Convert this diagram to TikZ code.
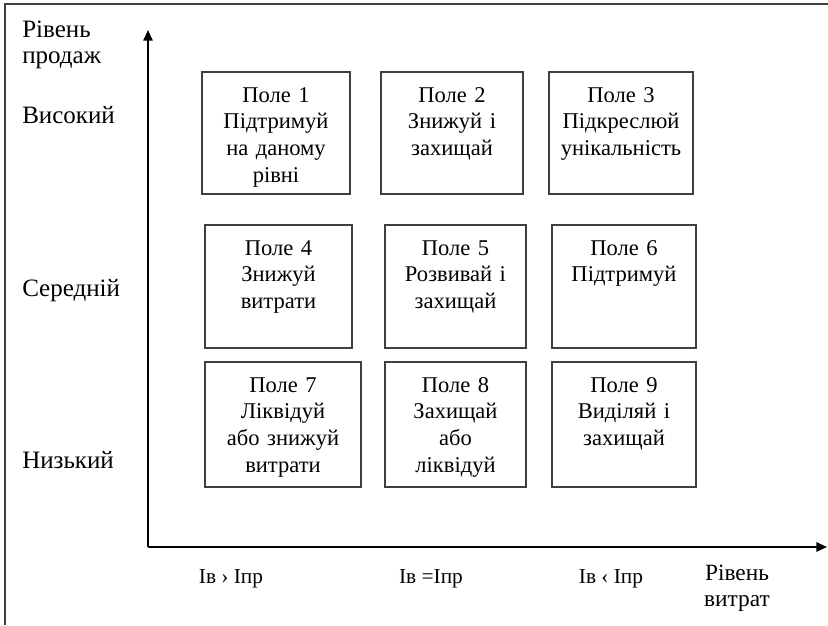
\documentclass[tikz,border=0pt]{standalone}
\usepackage{fontspec}
\setmainfont{Liberation Serif}
\usetikzlibrary{arrows.meta}
\newcommand{\polefont}{\fontsize{16.9}{20}\selectfont}
\newcommand{\rivfont}{\fontsize{18.75}{19.5}\selectfont}
\tikzset{
  pole/.style={draw=black!75, line width=1.1pt, align=center, text width=102pt,
    inner sep=0pt, text height=22.5pt, font=\polefont},
  rivlabel/.style={font=\rivfont, inner sep=0pt},
  vytlabel/.style={font=\fontsize{16}{19}\selectfont, inner sep=0pt},
  vis/.style={line width=1.3pt, -{Triangle[length=8pt,width=7pt]}}
}

\begin{document}
\begin{tikzpicture}[x=0.75pt,y=-0.75pt]
  \useasboundingbox (0,0) rectangle (828,625);
  \draw[black!75,line width=1.2pt] (5,625) |- (828,4);
  \coordinate (O) at (148,547);
  \coordinate (Ytop) at (148,30);
  \coordinate (Xend) at (827,547);
  \draw[vis] (O) -- (Ytop);
  \draw[vis] (O) -- (Xend);
  % sales levels
  \node[rivlabel,anchor=base west,align=left] (prod) at (22,63) {Рівень\\продаж};
  \node[rivlabel,anchor=base west] (vys) at (22,123) {Високий};
  \node[rivlabel,anchor=base west] (ser) at (22,296) {Середній};
  \node[rivlabel,anchor=base west] (nyz) at (22,468) {Низький};
  % cost levels
  \node[vytlabel,anchor=base] (c1) at (231,583) {Ів › Іпр};
  \node[vytlabel,anchor=base] (c2) at (431,583) {Ів =Іпр};
  \node[vytlabel,anchor=base] (c3) at (611,583) {Ів ‹ Іпр};
  \node[vytlabel,font=\fontsize{17.5}{19}\selectfont,anchor=base,align=center] (vytr) at (737,606) {Рівень\\витрат};
  % fields
  \node[pole,minimum width=111pt,text depth=69pt] (p1) at (276,133) {Поле 1\\Підтримуй\\на даному\\рівні};
  \node[pole,minimum width=106.5pt,text depth=69pt] (p2) at (452,133) {Поле 2\\Знижуй і\\захищай};
  \node[pole,minimum width=108pt,text depth=69pt] (p3) at (621,133) {Поле 3\\Підкреслюй\\унікальність};
  \node[pole,minimum width=110.25pt,text depth=69.75pt] (p4) at (278.5,286.5) {Поле 4\\Знижуй\\витрати};
  \node[pole,minimum width=105.75pt,text depth=69.75pt] (p5) at (455.5,286.5) {Поле 5\\Розвивай і\\захищай};
  \node[pole,minimum width=108pt,text depth=69.75pt] (p6) at (624,286.5) {Поле 6\\Підтримуй};
  \node[pole,minimum width=117pt,text depth=71.25pt] (p7) at (283,424.5) {Поле 7\\Ліквідуй\\або знижуй\\витрати};
  \node[pole,minimum width=105.75pt,text depth=71.25pt] (p8) at (455.5,424.5) {Поле 8\\Захищай\\або\\ліквідуй};
  \node[pole,minimum width=108pt,text depth=71.25pt] (p9) at (624,424.5) {Поле 9\\Виділяй і\\захищай};
\end{tikzpicture}
\end{document}
